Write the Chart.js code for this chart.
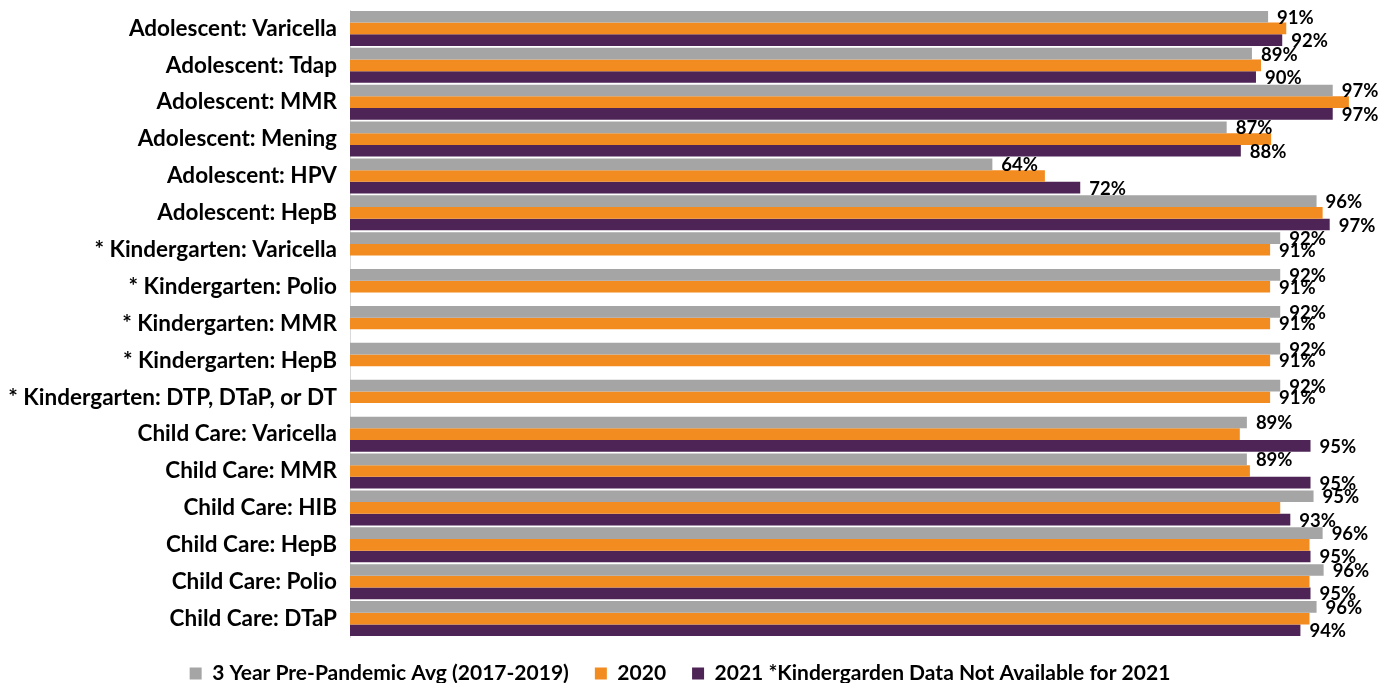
<!DOCTYPE html>
<html><head><meta charset="utf-8">
<script src="https://cdn.jsdelivr.net/npm/chart.js@4.4.1/dist/chart.umd.min.js"></script>
<style>html,body{margin:0;padding:0;background:#fff;} #wrap{width:1392px;height:683px;position:relative;}</style>
</head><body><div id="wrap"><canvas id="c"></canvas></div>
<script>
const categories = [
  "Adolescent: Varicella","Adolescent: Tdap","Adolescent: MMR","Adolescent: Mening",
  "Adolescent: HPV","Adolescent: HepB","* Kindergarten: Varicella","* Kindergarten: Polio",
  "* Kindergarten: MMR","* Kindergarten: HepB","* Kindergarten: DTP, DTaP, or DT",
  "Child Care: Varicella","Child Care: MMR","Child Care: HIB","Child Care: HepB",
  "Child Care: Polio","Child Care: DTaP"
];
const seriesNames = ["3 Year Pre-Pandemic Avg (2017-2019)", "2020", "2021 *Kindergarden Data Not Available for 2021"];
const avgPrePandemic = [90.9, 89.3, 97.3, 86.8, 63.6, 95.7, 92.1, 92.1, 92.1, 92.1, 92.1, 88.8, 88.8, 95.4, 96.3, 96.4, 95.7];
const values2020     = [92.7, 90.2, 98.9, 91.2, 68.8, 96.3, 91.1, 91.1, 91.1, 91.1, 91.1, 88.1, 89.1, 92.1, 95.0, 95.0, 95.0];
const values2021     = [92.3, 89.7, 97.3, 88.2, 72.3, 97.0, null, null, null, null, null, 95.1, 95.1, 93.1, 95.1, 95.1, 94.1];
const seriesColors = ["#A5A5A5", "#F28B20", "#4D2455"];

const FONT = "Lato";

const legendFit = {
  id: "legendFit",
  afterInit(chart) {
    const lg = chart.legend;
    if (!lg) return;
    const orig = lg.fit;
    lg.fit = function () { orig.call(this); this.height = 46; };
  }
};

const valueLabels = {
  id: "valueLabels",
  afterDatasetsDraw(chart) {
    const ctx = chart.ctx;
    ctx.save();
    ctx.font = "bold 18.5px " + FONT;
    ctx.fillStyle = "#000";
    ctx.textAlign = "left";
    ctx.textBaseline = "middle";
    chart.data.datasets.forEach((ds, i) => {
      const meta = chart.getDatasetMeta(i);
      meta.data.forEach((el, j) => {
        const v = ds.data[j];
        if (v == null) return;
        if (i === 1 && values2021[j] != null) return;
        ctx.fillText(Math.round(v) + "%", el.x + 9, el.y + 1);
      });
    });
    ctx.restore();
  }
};

new Chart(document.getElementById("c"), {
  type: "bar",
  data: {
    labels: categories,
    datasets: [
      { label: seriesNames[0], data: avgPrePandemic, backgroundColor: seriesColors[0] },
      { label: seriesNames[1], data: values2020, backgroundColor: seriesColors[1] },
      { label: seriesNames[2], data: values2021, backgroundColor: seriesColors[2] }
    ]
  },
  options: {
    indexAxis: "y",
    responsive: true,
    maintainAspectRatio: false,
    animation: false,
    datasets: { bar: { categoryPercentage: 0.95, barPercentage: 1.0 } },
    layout: { padding: { top: 10, right: 32, left: 0, bottom: 0 } },
    scales: {
      x: { min: 0, max: 100, display: false },
      y: {
        grid: { display: false, drawTicks: false },
        border: { display: true, color: "#D9D9D9", width: 1 },
        ticks: { color: "#000", padding: 13, font: { family: FONT, weight: "bold", size: 22.5 } },
        afterFit(s) { s.width = 350; s.paddingTop = 0; s.paddingBottom = 0; }
      }
    },
    plugins: {
      tooltip: { enabled: false },
      legend: {
        position: "bottom",
        labels: { boxWidth: 12, boxHeight: 12, padding: 26, color: "#000", font: { family: FONT, weight: "bold", size: 21 } }
      }
    }
  },
  plugins: [legendFit, valueLabels]
});
</script></body></html>
